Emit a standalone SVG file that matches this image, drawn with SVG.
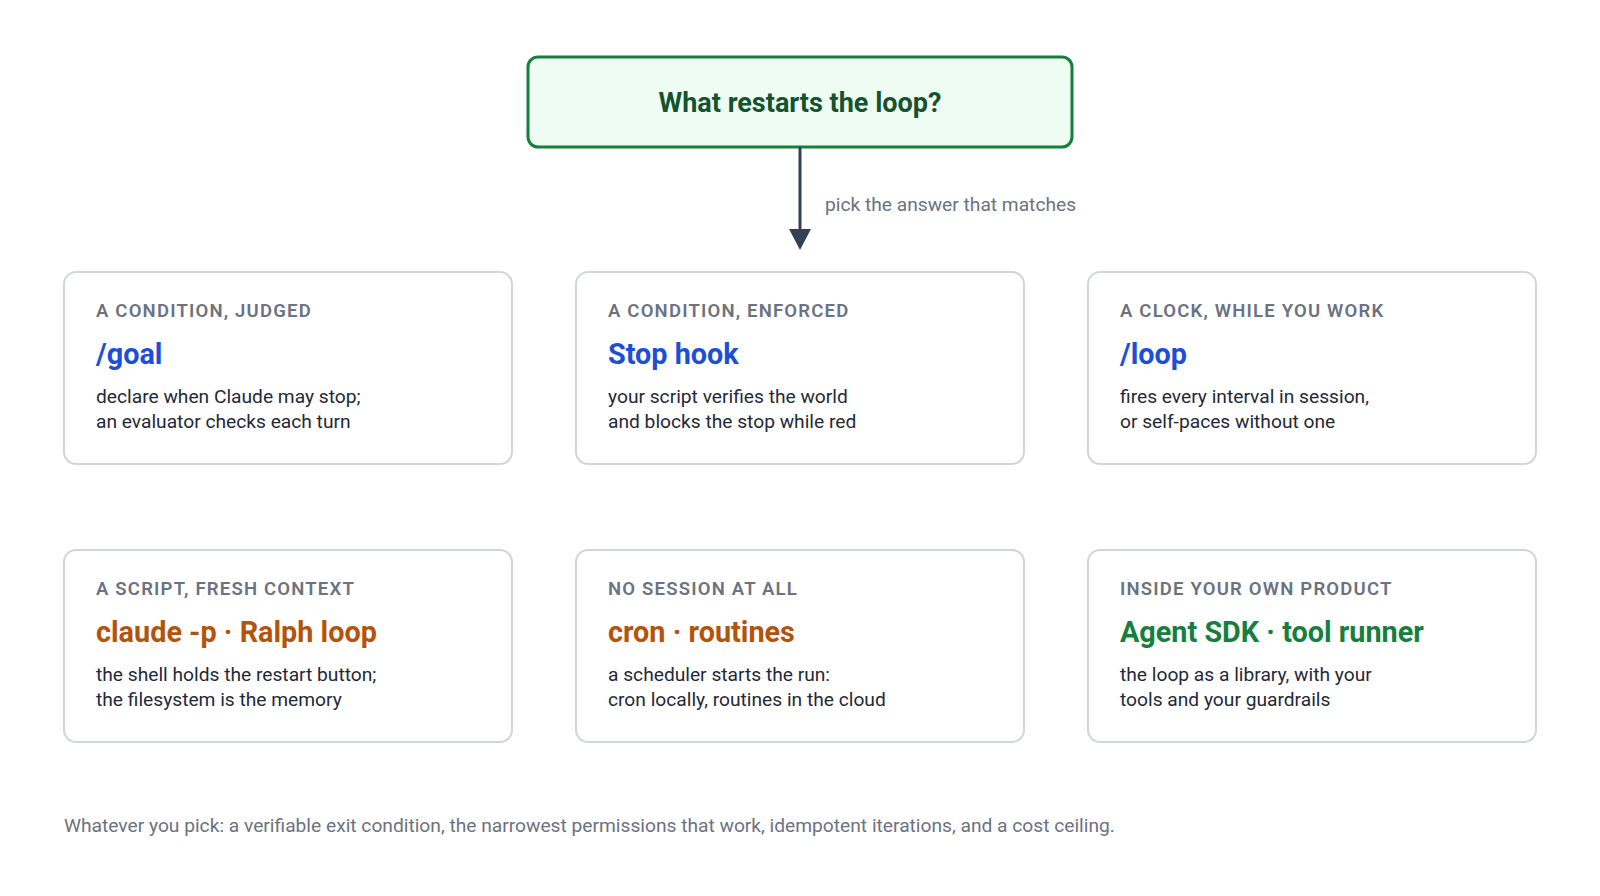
<svg xmlns="http://www.w3.org/2000/svg" width="1600" height="896" viewBox="0 0 1600 896">
<style>
.card{fill:#ffffff;stroke:#d1d5db;stroke-width:2}
.lbl{font-family:Roboto,"Liberation Sans",sans-serif;font-size:18.5px;font-weight:600;letter-spacing:1.2px;fill:#6b7280}
.ttl{font-family:Roboto,"Liberation Sans",sans-serif;font-size:28.8px;font-weight:700}
.body{font-family:Roboto,"Liberation Sans",sans-serif;font-size:19.2px;fill:#1f2937}
.blue{fill:#1d4ed8}.orange{fill:#b45309}.green{fill:#15803d}
.note{font-family:Roboto,"Liberation Sans",sans-serif;font-size:19.2px;fill:#6b7280}
</style>
<rect width="1600" height="896" fill="#ffffff"/>
<g id="question">
<rect x="528" y="57" width="544" height="90" rx="10" fill="#effcf3" stroke="#15803d" stroke-width="3"/>
<text x="800" y="112" text-anchor="middle" font-family="Roboto,'Liberation Sans',sans-serif" font-size="27" font-weight="700" fill="#14532d">What restarts the loop?</text>
</g>
<g id="connectors">
<line x1="800" y1="147" x2="800" y2="232" stroke="#334155" stroke-width="3"/>
<polygon points="789,229 811,229 800,250" fill="#334155"/>
<text x="825" y="211" class="note">pick the answer that matches</text>
</g>
<g id="goal">
<rect class="card" x="64" y="272" width="448" height="192" rx="12"/>
<text class="lbl" x="96" y="317">A CONDITION, JUDGED</text>
<text class="ttl blue" x="96" y="364">/goal</text>
<text class="body" x="96" y="403">declare when Claude may stop;</text>
<text class="body" x="96" y="428">an evaluator checks each turn</text>
</g>
<g id="stophook">
<rect class="card" x="576" y="272" width="448" height="192" rx="12"/>
<text class="lbl" x="608" y="317">A CONDITION, ENFORCED</text>
<text class="ttl blue" x="608" y="364">Stop hook</text>
<text class="body" x="608" y="403">your script verifies the world</text>
<text class="body" x="608" y="428">and blocks the stop while red</text>
</g>
<g id="loop">
<rect class="card" x="1088" y="272" width="448" height="192" rx="12"/>
<text class="lbl" x="1120" y="317">A CLOCK, WHILE YOU WORK</text>
<text class="ttl blue" x="1120" y="364">/loop</text>
<text class="body" x="1120" y="403">fires every interval in session,</text>
<text class="body" x="1120" y="428">or self-paces without one</text>
</g>
<g id="ralph">
<rect class="card" x="64" y="550" width="448" height="192" rx="12"/>
<text class="lbl" x="96" y="595">A SCRIPT, FRESH CONTEXT</text>
<text class="ttl orange" x="96" y="642">claude -p · Ralph loop</text>
<text class="body" x="96" y="681">the shell holds the restart button;</text>
<text class="body" x="96" y="706">the filesystem is the memory</text>
</g>
<g id="cron">
<rect class="card" x="576" y="550" width="448" height="192" rx="12"/>
<text class="lbl" x="608" y="595">NO SESSION AT ALL</text>
<text class="ttl orange" x="608" y="642">cron · routines</text>
<text class="body" x="608" y="681">a scheduler starts the run:</text>
<text class="body" x="608" y="706">cron locally, routines in the cloud</text>
</g>
<g id="sdk">
<rect class="card" x="1088" y="550" width="448" height="192" rx="12"/>
<text class="lbl" x="1120" y="595">INSIDE YOUR OWN PRODUCT</text>
<text class="ttl green" x="1120" y="642">Agent SDK · tool runner</text>
<text class="body" x="1120" y="681">the loop as a library, with your</text>
<text class="body" x="1120" y="706">tools and your guardrails</text>
</g>
<text class="note" x="64" y="832">Whatever you pick: a verifiable exit condition, the narrowest permissions that work, idempotent iterations, and a cost ceiling.</text>
</svg>
